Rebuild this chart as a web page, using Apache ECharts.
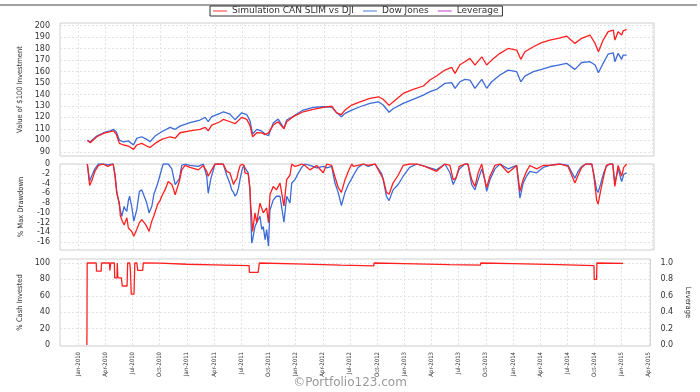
<!DOCTYPE html>
<html><head><meta charset="utf-8">
<script src="https://cdn.jsdelivr.net/npm/echarts@6/dist/echarts.min.js"></script>
<style>html,body{margin:0;padding:0;background:#fff}#c{width:700px;height:392px}</style>
</head><body><div id="c"></div>
<script>
// ---- X tick labels (quarterly) ----
const tickLabels = ['Jan-2010','Apr-2010','Jul-2010','Oct-2010','Jan-2011','Apr-2011','Jul-2011','Oct-2011',
  'Jan-2012','Apr-2012','Jul-2012','Oct-2012','Jan-2013','Apr-2013','Jul-2013','Oct-2013',
  'Jan-2014','Apr-2014','Jul-2014','Oct-2014','Jan-2015','Apr-2015'];
const valueTicks = [90,100,110,120,130,140,150,160,170,180,190,200];
const drawdownTicks = [-16,-14,-12,-10,-8,-6,-4,-2,0];
const cashTicks = [0,20,40,60,80,100];
const leverageTicks = [0.0,0.2,0.4,0.6,0.8,1.0];

// ---- Value of $100 investment ----
const valueDates = ['2010-02-01','2010-02-10','2010-03-02','2010-03-25','2010-04-16','2010-04-27','2010-05-06','2010-05-17','2010-05-31','2010-06-16',
  '2010-07-03','2010-07-14','2010-07-31','2010-08-17','2010-08-28','2010-09-14','2010-10-06','2010-11-03','2010-11-20','2010-12-06',
  '2011-01-09','2011-02-11','2011-02-27','2011-03-09','2011-03-21','2011-04-18','2011-04-29','2011-05-21','2011-06-07','2011-06-29',
  '2011-07-16','2011-07-27','2011-08-05','2011-08-19','2011-09-05','2011-09-16','2011-09-27','2011-10-13','2011-10-30','2011-11-18',
  '2011-11-27','2011-12-19','2012-01-22','2012-02-23','2012-03-28','2012-04-25','2012-05-12','2012-05-28','2012-06-09','2012-07-01',
  '2012-07-29','2012-09-01','2012-09-29','2012-10-15','2012-11-04','2012-11-17','2012-12-21','2013-01-24','2013-02-25','2013-03-19',
  '2013-04-10','2013-05-08','2013-05-31','2013-06-11','2013-06-27','2013-07-14','2013-07-31','2013-08-17','2013-09-09','2013-09-25',
  '2013-10-12','2013-11-09','2013-12-06','2014-01-04','2014-01-18','2014-02-01','2014-02-27','2014-03-27','2014-04-23','2014-05-21',
  '2014-06-18','2014-07-16','2014-08-08','2014-09-05','2014-09-22','2014-10-03','2014-10-19','2014-11-05','2014-11-22','2014-11-27',
  '2014-12-08','2014-12-20','2014-12-25','2015-01-06'];
const canslimValue = [100,97.9,103.1,106,107.5,108.3,105.5,97.3,95.9,95,
  92.1,95.9,97.3,95,93.8,97.3,100.8,103.1,101.8,106.6,
  108.3,109.6,111.3,108.3,113.3,116.2,118.3,116.2,114.5,120,
  118.3,113,103.1,106.6,106.5,105,106.5,113.3,116.2,110,
  116.2,120.6,124.9,127,128.7,129.9,124,122.5,126.4,130.8,
  133.6,136.6,138,135.8,130.5,133.5,140.9,144.4,147.4,152.6,
  156.1,161.3,163.7,158.4,166,168.6,171.5,165.7,172.9,165.7,
  170,175.9,180.2,178.8,170.7,177.3,181.7,185.2,187.5,189,
  191,184.6,189,191.9,184.6,177.3,187.5,194.8,196.2,187.5,
  194.8,191.9,195.6,196.9];
const dowValue = [100,98.7,103.7,106.6,108.3,109.6,107.5,100.2,98.7,99.5,
  96,101.7,103.1,100.8,98.7,103.7,107.5,111.3,109.6,112.4,
  115.4,117.7,120,116.2,120.6,123.5,124.9,122.9,118,124,
  122.5,117,105.5,109.5,108,105.5,104,115,118.5,110.5,
  117.7,121,126.4,128.7,129.3,129,124,120.6,123.5,126.4,
  129.3,132.3,133.6,130.8,124.5,127.5,132.3,135.8,139.5,142.5,
  144.4,149.7,150.3,145.4,151.1,153.2,152.5,145.4,153.2,145.4,
  151.1,157,161.3,159.9,151.1,156,159.9,161.9,164.2,165.7,
  167.2,161.9,167.9,168.6,165.7,159,167.2,175.3,176.4,168.6,
  175.9,170.7,174.4,174.4];

// ---- % Max drawdown ----
const ddDates = ['2010-02-01','2010-02-08','2010-02-16','2010-02-24','2010-03-08','2010-03-23','2010-04-08','2010-04-26','2010-05-02','2010-05-08',
  '2010-05-17','2010-05-20','2010-05-25','2010-06-02','2010-06-05','2010-06-11','2010-06-16','2010-06-20','2010-06-27','2010-07-04',
  '2010-07-14','2010-07-23','2010-07-31','2010-08-11','2010-08-17','2010-08-25','2010-09-03','2010-09-10','2010-09-22','2010-09-30',
  '2010-10-06','2010-10-11','2010-10-17','2010-10-28','2010-11-09','2010-11-14','2010-11-20','2010-11-25','2010-12-04','2010-12-12',
  '2010-12-23','2010-12-29','2011-01-09','2011-02-06','2011-02-21','2011-03-04','2011-03-09','2011-03-18','2011-04-01','2011-04-28',
  '2011-05-10','2011-05-21','2011-05-27','2011-06-02','2011-06-07','2011-06-13','2011-06-18','2011-06-24','2011-06-29','2011-07-02',
  '2011-07-07','2011-07-10','2011-07-16','2011-07-21','2011-07-27','2011-07-29','2011-08-02','2011-08-05','2011-08-13','2011-08-19',
  '2011-08-24','2011-08-30','2011-09-05','2011-09-10','2011-09-16','2011-09-21','2011-09-27','2011-10-02','2011-10-13','2011-10-24',
  '2011-11-05','2011-11-18','2011-11-27','2011-12-08','2011-12-14','2011-12-25','2012-01-06','2012-01-17','2012-01-28','2012-02-13',
  '2012-03-06','2012-03-28','2012-04-09','2012-04-25','2012-05-06','2012-05-17','2012-05-28','2012-06-09','2012-06-20','2012-07-01',
  '2012-07-07','2012-07-23','2012-08-09','2012-08-26','2012-09-18','2012-10-10','2012-10-15','2012-10-26','2012-11-04','2012-11-17',
  '2012-12-04','2012-12-21','2013-01-12','2013-02-05','2013-03-02','2013-04-10','2013-05-08','2013-05-25','2013-06-05','2013-06-14',
  '2013-06-25','2013-07-14','2013-07-24','2013-08-06','2013-08-17','2013-08-28','2013-09-09','2013-09-20','2013-09-25','2013-10-06',
  '2013-10-23','2013-11-09','2013-12-06','2014-01-04','2014-01-15','2014-01-26','2014-02-06','2014-02-16','2014-03-10','2014-04-01',
  '2014-04-23','2014-05-27','2014-06-23','2014-07-16','2014-07-27','2014-08-08','2014-08-22','2014-09-11','2014-09-18','2014-09-27',
  '2014-10-02','2014-10-10','2014-10-21','2014-10-30','2014-11-10','2014-11-20','2014-11-27','2014-12-08','2014-12-20','2014-12-27',
  '2015-01-06'];
const canslimDrawdown = [0,-4.4,-3.2,-1.5,-0.3,0,-0.5,0,-2.5,-6,
  -8,-10.5,-11.4,-12.5,-12,-11,-13.1,-13.5,-13.8,-14.8,
  -13.4,-12,-11.4,-12.2,-12.8,-13.8,-11.7,-10.6,-8.3,-7.5,
  -6.6,-6,-5.3,-3.6,-4.2,-5,-6.3,-6.6,-3.5,-1.2,
  -0.3,0,-0.7,-1.2,-0.3,-1.5,-2.5,-1.5,0,0,
  -1.5,-1.8,-3,-4.2,-3.5,-3,-1.5,-0.3,0,0,
  -0.5,-1.8,-1.5,-2,-5,-8,-11,-13.8,-10,-12,
  -11.7,-8,-8,-10,-10.2,-9,-12,-6.3,-4.6,-5.3,
  -3.9,-8.6,-3.2,-2.3,0,-0.5,-0.3,0,-0.3,-1.2,
  -0.3,-1.8,0,-0.3,-2.6,-4.8,-5.8,-3.2,-1.5,0,
  -0.5,-0.3,0,-0.3,0,-2.5,-3,-5.8,-6.2,-3.9,
  -2.3,-0.3,0,0,-0.5,-1.5,0,-0.3,-3.2,-2.9,
  -0.5,0,0,-3.2,-4.6,-1.8,0,-3.6,-4.8,-2.5,
  -0.3,0,-1.8,-0.3,-5.6,-3.2,-1.5,-0.3,-1,-0.3,
  -0.3,0,-0.5,-3.9,-2.3,-0.7,0,0,-2.5,-7.4,
  -8.2,-5.6,-2.5,-0.3,0,0,-4.6,-0.3,-2.5,-0.7,
  0];
const dowDrawdown = [0,-3.5,-2.2,-1,0,0,-0.2,0,-2,-5.5,
  -8.5,-9.4,-10.7,-8.7,-9.2,-9.7,-7.5,-6.6,-8.7,-11.7,
  -9.4,-5.6,-5.3,-7,-8,-10,-8.7,-6.2,-4.1,-2.3,
  -1,0,0,0,-1,-2.5,-4.2,-4.2,-3,-0.3,
  0,0,-0.3,-0.5,0,-2.5,-6,-3,0,0,
  -2.3,-4,-5.3,-5.8,-6.6,-6,-5,-3,-1.5,-0.8,
  -0.3,-0.8,-1.2,-1.8,-5.3,-9,-16.2,-15.5,-12.8,-12,
  -11.4,-10.7,-13.4,-12.8,-15.5,-13.4,-16.8,-9.4,-7.4,-6.6,
  -6.6,-11.9,-6.6,-8,-3.9,-3.2,-1.8,-0.7,0,-0.3,
  -0.8,-0.5,-0.8,-0.5,-3.9,-5.8,-8.5,-5.8,-4.2,-3,
  -2.3,-0.7,0,-0.5,0,-2,-3.2,-6.6,-7.5,-5.3,
  -4.2,-2.5,-0.7,0,-0.5,-1.2,0,-1.8,-4.2,-2.9,
  -1,0,0,-4.2,-5.3,-3.2,-1,-3.5,-5.6,-3.2,
  -1,0,-1,-0.3,-7,-3.9,-2.5,-1.5,-1.8,-0.7,
  -0.3,0,-0.3,-2.9,-1.5,-0.5,0,0,-2.1,-5.3,
  -5.8,-4.2,-1.8,-0.5,0,0,-3.9,-1,-3.6,-2.1,
  -1.8];

// ---- % Cash invested ----
const cashDates = ['2010-01-31','2010-02-01','2010-03-01','2010-03-02','2010-03-18','2010-03-19','2010-04-15','2010-04-16','2010-04-19','2010-05-01',
  '2010-05-02','2010-05-10','2010-05-11','2010-05-13','2010-05-25','2010-05-28','2010-06-13','2010-06-15','2010-06-22','2010-06-24',
  '2010-06-27','2010-07-06','2010-07-09','2010-07-16','2010-07-19','2010-08-05','2010-08-07','2010-10-01','2011-01-01','2011-04-01',
  '2011-07-28','2011-07-29','2011-08-28','2011-09-01','2012-01-01','2012-06-01','2012-09-20','2012-09-21','2013-01-01','2013-06-01',
  '2013-09-13','2013-09-14','2014-01-01','2014-06-01','2014-09-29','2014-09-30','2014-10-08','2014-10-09','2015-01-06'];
const cashInvested = [0,100,100,90,90,100,100,91,100,100,
  82,82,100,82,82,72,72,100,100,92,
  62,62,100,100,91,91,100,99.8,98.5,97.8,
  96.8,88.5,88.5,100,99,97.5,96.5,100,99.2,98,
  97.5,100,99.3,98,96.8,80,80,100,99.5];
const leverage = [];

// ---- helpers: date -> months since Jan 2010 ----
function toM(s){ const p=s.split('-').map(Number); const dim=new Date(p[0],p[1],0).getDate(); return (p[0]-2010)*12+(p[1]-1)+(p[2]-1)/dim; }
function pairs(dates, vals){ return dates.map((d,i)=>[toM(d), vals[i]]); }
const xTickVals = tickLabels.map((_,i)=>i*3);

const RED='#ff1f1f', BLUE='#3d6bd8', VIOLET='#c050c0';
const SIM='Simulation CAN SLIM vs DJI', DOW='Dow Jones', LEV='Leverage';
const narrow='"Liberation Sans Narrow","DejaVu Sans Condensed",sans-serif';
const wide='"DejaVu Sans",Verdana,sans-serif';
const gridCommon={left:60,right:46,show:true,borderColor:'#cfcfcf',borderWidth:1,backgroundColor:'#fff'};
const split={show:true,lineStyle:{color:'#e3e3e3',type:[2,2],width:1}};

function xAxis(i){
  return {type:'value',gridIndex:i,min:-2,max:63.16,axisLine:{show:false},
    axisTick:{show:false,customValues:xTickVals},splitLine:split,
    axisLabel:{show:i===2,customValues:xTickVals,formatter:v=>tickLabels[Math.round(v/3)],rotate:90,
      fontSize:6,fontFamily:narrow,color:'#333',margin:6}};
}
function yAxis(i,min,max,ticks,name,extra){
  return Object.assign({type:'value',gridIndex:i,min:min,max:max,axisLine:{show:false},
    axisTick:{show:false,customValues:ticks},splitLine:split,
    axisLabel:{customValues:ticks,fontSize:8,fontFamily:wide,color:'#333',margin:10},
    name:name,nameLocation:'middle',nameGap:35,nameRotate:90,
    nameTextStyle:{fontSize:7.5,fontFamily:narrow,color:'#333'}},extra||{});
}
const line=(name,color,xi,yi,data,z)=>({name:name,type:'line',xAxisIndex:xi,yAxisIndex:yi,data:data,
  showSymbol:false,symbol:'none',lineStyle:{color:color,width:1.3},itemStyle:{color:color},z:z||2,animation:false});

const chart=echarts.init(document.getElementById('c'),null,{renderer:'canvas'});
chart.setOption({
  animation:false,
  backgroundColor:'#fff',
  legend:{top:6,left:210,padding:[0,4,0,3],borderColor:'#333',borderWidth:1,itemWidth:14,itemHeight:2,itemGap:9,icon:'rect',
    textStyle:{fontSize:9,lineHeight:10,fontFamily:wide,color:'#333'},
    data:[{name:SIM,itemStyle:{color:'#ff9a9a'}},{name:DOW,itemStyle:{color:'#a6bde8'}},{name:LEV,itemStyle:{color:'#e0a0e0'}}]},
  grid:[Object.assign({top:23,height:133},gridCommon),Object.assign({top:164,height:86},gridCommon),Object.assign({top:259,height:87},gridCommon)],
  xAxis:[xAxis(0),xAxis(1),xAxis(2)],
  yAxis:[
    yAxis(0,86.3,202.4,valueTicks,'Value of $100 Investment'),
    yAxis(1,-17.6,0,drawdownTicks,'% Max Drawdown'),
    yAxis(2,-1.2,104.9,cashTicks,'% Cash Invested'),
    yAxis(2,-0.012,1.049,leverageTicks,'Leverage',{position:'right',splitLine:{show:false},nameRotate:-90,nameGap:30,
      axisLabel:{customValues:leverageTicks,formatter:v=>v.toFixed(1),fontSize:8,fontFamily:wide,color:'#333',margin:10}})
  ],
  graphic:[
    {type:'line',shape:{x1:0,y1:5,x2:697,y2:5},style:{stroke:'#444',lineWidth:1}},
    {type:'text',left:'center',top:377,style:{text:'©Portfolio123.com',fill:'#9a9a9a',font:'12px "DejaVu Sans"'}}
  ],
  series:[
    line(DOW,BLUE,0,0,pairs(valueDates,dowValue)),
    line(SIM,RED,0,0,pairs(valueDates,canslimValue),3),
    line(DOW,BLUE,1,1,pairs(ddDates,dowDrawdown)),
    line(SIM,RED,1,1,pairs(ddDates,canslimDrawdown),3),
    line(LEV,VIOLET,2,3,leverage),
    line(SIM,RED,2,2,pairs(cashDates,cashInvested),3)
  ]
});
</script></body></html>
